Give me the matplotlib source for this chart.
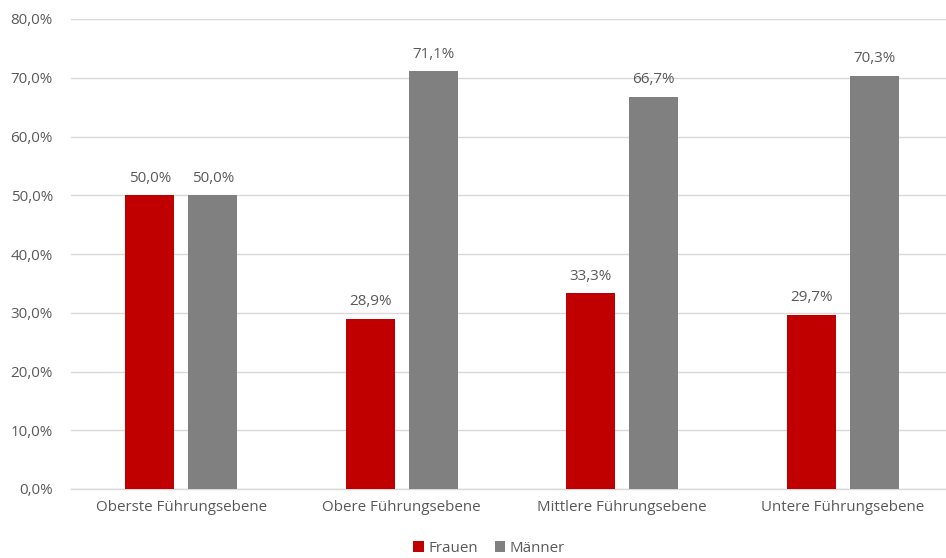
import numpy as np
import matplotlib.pyplot as plt

# Anteil Frauen / Männer je Führungsebene (in %)
categories = ["Oberste Führungsebene", "Obere Führungsebene",
              "Mittlere Führungsebene", "Untere Führungsebene"]
frauen = [50.0, 28.9, 33.3, 29.7]
maenner = [50.0, 71.1, 66.7, 70.3]
yticks = [0, 10, 20, 30, 40, 50, 60, 70, 80]

text_color = "#595959"
fs = 10.9
plt.rcParams['font.family'] = ['Open Sans', 'DejaVu Sans']

fig = plt.figure(figsize=(9.46, 5.58), dpi=100)
ax = fig.add_axes([71 / 946, 69 / 558, 882 / 946, 470 / 558])

x = np.arange(len(categories))
width = 0.222
offset = 0.143

bars_f = ax.bar(x - offset, frauen, width, color="#C00000", label="Frauen", zorder=3)
bars_m = ax.bar(x + offset, maenner, width, color="#808080", label="Männer", zorder=3)

def fmt(v):
    return f"{v:.1f}%".replace(".", ",")

for bars, vals in ((bars_f, frauen), (bars_m, maenner)):
    for b, v in zip(bars, vals):
        ax.annotate(fmt(v), (b.get_x() + b.get_width() / 2, v),
                    xytext=(0, 7), textcoords="offset points",
                    ha="center", va="bottom", fontsize=fs, color=text_color)

ax.set_xlim(-0.5, len(categories) - 0.5)
ax.set_ylim(0, 80)
ax.set_yticks(yticks)
ax.set_yticklabels([fmt(t) for t in yticks], fontsize=fs, color=text_color)
ax.set_xticks(x)
ax.set_xticklabels(categories, fontsize=fs, color=text_color)
ax.tick_params(axis="both", length=0)
ax.tick_params(axis="y", pad=13)
ax.tick_params(axis="x", pad=8)

ax.yaxis.grid(True, color="#D9D9D9", linewidth=1, zorder=0)
for side in ("top", "right", "left"):
    ax.spines[side].set_visible(False)
ax.spines["bottom"].set_color("#D9D9D9")
ax.spines["bottom"].set_linewidth(1)

fig.legend(loc="lower center", bbox_to_anchor=(489 / 946, -0.02), ncol=2,
           frameon=False, fontsize=fs, labelcolor=text_color,
           handlelength=0.7, handleheight=0.7, handletextpad=0.3,
           columnspacing=1.1)

fig.savefig("out.png", dpi=100)
